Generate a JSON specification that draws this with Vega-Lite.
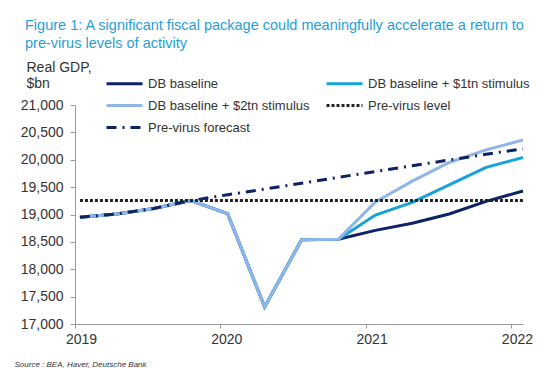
{
  "$schema": "https://vega.github.io/schema/vega-lite/v6.json",
  "autosize": "none",
  "width": 448,
  "height": 219,
  "padding": {"left": 75, "top": 105, "right": 26, "bottom": 64},
  "background": "white",
  "title": {
    "text": ["Figure 1: A significant fiscal package could meaningfully accelerate a return to", "pre-virus levels of activity"],
    "anchor": "start",
    "frame": "group",
    "dx": -50,
    "dy": 31,
    "fontSize": 14.5,
    "lineHeight": 18,
    "font": "Liberation Sans",
    "fontWeight": "normal",
    "color": "#1f9fd9",
    "offset": 40
  },
  "data": {
    "values": [
      {"series": "DB baseline", "t": 2019.034, "gdp": 18950},
      {"series": "DB baseline", "t": 2019.288, "gdp": 19010},
      {"series": "DB baseline", "t": 2019.542, "gdp": 19110},
      {"series": "DB baseline", "t": 2019.796, "gdp": 19254},
      {"series": "DB baseline", "t": 2020.050, "gdp": 19015},
      {"series": "DB baseline", "t": 2020.305, "gdp": 17310},
      {"series": "DB baseline", "t": 2020.559, "gdp": 18540},
      {"series": "DB baseline", "t": 2020.813, "gdp": 18550},
      {"series": "DB baseline", "t": 2021.067, "gdp": 18710},
      {"series": "DB baseline", "t": 2021.321, "gdp": 18840},
      {"series": "DB baseline", "t": 2021.575, "gdp": 19010},
      {"series": "DB baseline", "t": 2021.829, "gdp": 19240},
      {"series": "DB baseline", "t": 2022.083, "gdp": 19430},
      {"series": "DB baseline + $1tn stimulus", "t": 2019.034, "gdp": 18950},
      {"series": "DB baseline + $1tn stimulus", "t": 2019.288, "gdp": 19010},
      {"series": "DB baseline + $1tn stimulus", "t": 2019.542, "gdp": 19110},
      {"series": "DB baseline + $1tn stimulus", "t": 2019.796, "gdp": 19254},
      {"series": "DB baseline + $1tn stimulus", "t": 2020.050, "gdp": 19015},
      {"series": "DB baseline + $1tn stimulus", "t": 2020.305, "gdp": 17310},
      {"series": "DB baseline + $1tn stimulus", "t": 2020.559, "gdp": 18540},
      {"series": "DB baseline + $1tn stimulus", "t": 2020.813, "gdp": 18550},
      {"series": "DB baseline + $1tn stimulus", "t": 2021.067, "gdp": 18990},
      {"series": "DB baseline + $1tn stimulus", "t": 2021.321, "gdp": 19220},
      {"series": "DB baseline + $1tn stimulus", "t": 2021.575, "gdp": 19540},
      {"series": "DB baseline + $1tn stimulus", "t": 2021.829, "gdp": 19860},
      {"series": "DB baseline + $1tn stimulus", "t": 2022.083, "gdp": 20040},
      {"series": "DB baseline + $2tn stimulus", "t": 2019.034, "gdp": 18950},
      {"series": "DB baseline + $2tn stimulus", "t": 2019.288, "gdp": 19010},
      {"series": "DB baseline + $2tn stimulus", "t": 2019.542, "gdp": 19110},
      {"series": "DB baseline + $2tn stimulus", "t": 2019.796, "gdp": 19254},
      {"series": "DB baseline + $2tn stimulus", "t": 2020.050, "gdp": 19015},
      {"series": "DB baseline + $2tn stimulus", "t": 2020.305, "gdp": 17310},
      {"series": "DB baseline + $2tn stimulus", "t": 2020.559, "gdp": 18540},
      {"series": "DB baseline + $2tn stimulus", "t": 2020.813, "gdp": 18550},
      {"series": "DB baseline + $2tn stimulus", "t": 2021.067, "gdp": 19230},
      {"series": "DB baseline + $2tn stimulus", "t": 2021.321, "gdp": 19610},
      {"series": "DB baseline + $2tn stimulus", "t": 2021.575, "gdp": 19950},
      {"series": "DB baseline + $2tn stimulus", "t": 2021.829, "gdp": 20180},
      {"series": "DB baseline + $2tn stimulus", "t": 2022.083, "gdp": 20360},
      {"series": "Pre-virus level", "t": 2019.034, "gdp": 19254},
      {"series": "Pre-virus level", "t": 2022.083, "gdp": 19254},
      {"series": "Pre-virus forecast", "t": 2019.034, "gdp": 18950},
      {"series": "Pre-virus forecast", "t": 2019.288, "gdp": 19010},
      {"series": "Pre-virus forecast", "t": 2019.542, "gdp": 19110},
      {"series": "Pre-virus forecast", "t": 2019.796, "gdp": 19254},
      {"series": "Pre-virus forecast", "t": 2020.050, "gdp": 19360},
      {"series": "Pre-virus forecast", "t": 2020.305, "gdp": 19465},
      {"series": "Pre-virus forecast", "t": 2020.559, "gdp": 19570},
      {"series": "Pre-virus forecast", "t": 2020.813, "gdp": 19680},
      {"series": "Pre-virus forecast", "t": 2021.067, "gdp": 19785},
      {"series": "Pre-virus forecast", "t": 2021.321, "gdp": 19890},
      {"series": "Pre-virus forecast", "t": 2021.575, "gdp": 19995},
      {"series": "Pre-virus forecast", "t": 2021.829, "gdp": 20100},
      {"series": "Pre-virus forecast", "t": 2022.083, "gdp": 20200}
    ]
  },
  "encoding": {
    "x": {
      "field": "t",
      "type": "quantitative",
      "scale": {"domain": [2019, 2022.083], "nice": false, "zero": false},
      "axis": {
        "values": [2019, 2020, 2021, 2022],
        "format": "d",
        "grid": false,
        "labelFlush": false,
        "labelFontSize": 14,
        "labelFont": "Liberation Sans",
        "labelColor": "#333333",
        "labelOffset": 6,
        "labelPadding": 4,
        "tickSize": 4,
        "tickColor": "#9a9a9a",
        "domainColor": "#9a9a9a",
        "title": "Source : BEA, Haver, Deutsche Bank",
        "titleFont": "Liberation Sans",
        "titleFontSize": 8,
        "titleFontStyle": "italic",
        "titleFontWeight": "normal",
        "titleColor": "#333333",
        "titleAlign": "left",
        "titleBaseline": "middle",
        "titleX": -61,
        "titleY": 40
      }
    },
    "y": {
      "field": "gdp",
      "type": "quantitative",
      "scale": {"domain": [17000, 21000], "nice": false, "zero": false},
      "axis": {
        "values": [17000, 17500, 18000, 18500, 19000, 19500, 20000, 20500, 21000],
        "format": ",d",
        "grid": false,
        "labelFontSize": 14,
        "labelFont": "Liberation Sans",
        "labelColor": "#333333",
        "labelPadding": 7,
        "tickSize": 5,
        "tickColor": "#9a9a9a",
        "domainColor": "#9a9a9a",
        "title": ["Real GDP,", "$bn"],
        "titleFont": "Liberation Sans",
        "titleFontSize": 14,
        "titleFontWeight": "normal",
        "titleColor": "#333333",
        "titleAngle": 0,
        "titleAlign": "left",
        "titleBaseline": "middle",
        "titleLineHeight": 16,
        "titleX": -49,
        "titleY": -38
      }
    },
    "color": {
      "field": "series",
      "type": "nominal",
      "scale": {
        "domain": ["DB baseline", "DB baseline + $1tn stimulus", "DB baseline + $2tn stimulus", "Pre-virus level", "Pre-virus forecast"],
        "range": ["#0d2366", "#17a2d8", "#8fb5ea", "#222222", "#0d2366"]
      },
      "legend": {"title": null}
    },
    "strokeDash": {
      "field": "series",
      "type": "nominal",
      "scale": {
        "domain": ["DB baseline", "DB baseline + $1tn stimulus", "DB baseline + $2tn stimulus", "Pre-virus level", "Pre-virus forecast"],
        "range": [[2000, 0], [2000, 0], [2000, 0], [3, 2], [10, 6, 2, 6]]
      },
      "legend": {"title": null}
    },
    "strokeWidth": {
      "field": "series",
      "type": "nominal",
      "scale": {
        "domain": ["DB baseline", "DB baseline + $1tn stimulus", "DB baseline + $2tn stimulus", "Pre-virus level", "Pre-virus forecast"],
        "range": [3, 3, 4.5, 2, 3]
      },
      "legend": null
    }
  },
  "layer": [
    {
      "transform": [{"filter": "datum.series === 'DB baseline'"}],
      "mark": {"type": "line", "clip": false}
    },
    {
      "transform": [{"filter": "datum.series === 'DB baseline + $1tn stimulus'"}],
      "mark": {"type": "line", "clip": false}
    },
    {
      "transform": [{"filter": "datum.series === 'DB baseline + $2tn stimulus'"}],
      "mark": {"type": "line", "clip": false}
    },
    {
      "transform": [{"filter": "datum.series === 'Pre-virus level'"}],
      "mark": {"type": "line", "clip": false}
    },
    {
      "transform": [{"filter": "datum.series === 'Pre-virus forecast'"}],
      "mark": {"type": "line", "clip": false}
    }
  ],
  "config": {
    "view": {"stroke": null},
    "legend": {
      "orient": "none",
      "legendX": 39,
      "legendY": -32,
      "direction": "horizontal",
      "columns": 2,
      "columnPadding": 10,
      "rowPadding": 4,
      "symbolType": "M-2,0H2",
      "symbolSize": 324,
      "symbolStrokeWidth": 3,
      "labelFontSize": 13,
      "labelFont": "Liberation Sans",
      "labelColor": "#333333",
      "labelOffset": 13,
      "labelLimit": 300
    }
  }
}
